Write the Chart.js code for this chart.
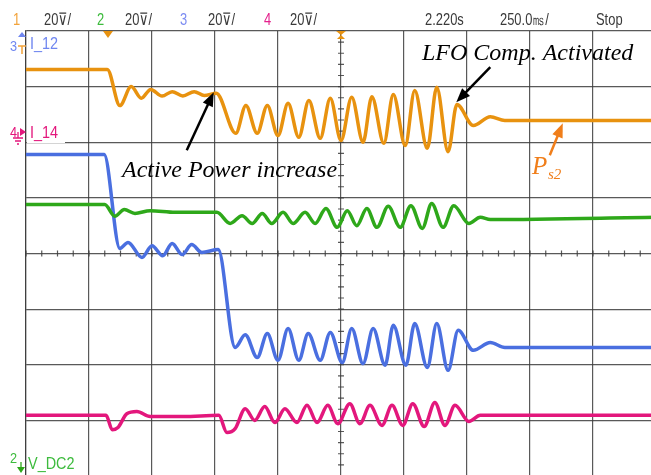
<!DOCTYPE html>
<html>
<head>
<meta charset="utf-8">
<script src="https://cdn.jsdelivr.net/npm/chart.js@4.4.0/dist/chart.umd.min.js"></script>
<style>
  html, body { margin: 0; padding: 0; background: #fff; overflow: hidden; width: 651px; height: 475px; }
  #wrap { position: absolute; left: 0; top: 0; width: 700px; height: 480px; }
</style>
</head>
<body>
<div id="wrap"><canvas id="scope"></canvas></div>
<script>
// time in screen divisions (250 ms/div, trigger at centre), levels in divisions
const ps2T = [-5.0, -3.71, -3.51, -3.33, -3.17, -3.02, -2.84, -2.68, -2.51, -2.33, -2.17, -1.98,
              -1.67, -1.51, -1.33, -1.17, -1.00, -0.84, -0.67, -0.51, -0.33, -0.17, 0.00, 0.17,
              0.35, 0.49, 0.68, 0.83, 1.02, 1.17, 1.37, 1.52, 1.70, 1.84, 2.10, 2.37, 2.60, 5.0];
const ps2V = [3.31, 3.31, 2.66, 3.00, 2.79, 2.95, 2.83, 2.91, 2.83, 2.91, 2.84, 2.88,
              2.16, 2.66, 2.16, 2.66, 2.12, 2.70, 2.09, 2.75, 2.07, 2.79, 2.03, 2.81,
              2.00, 2.82, 1.98, 2.86, 1.94, 2.93, 1.89, 2.99, 1.83, 2.68, 2.30, 2.46, 2.39, 2.39];

const vdcT = [-5.0, -3.75, -3.59, -3.44, -3.27, -3.03, -2.63, -1.97, -1.76, -1.57, -1.41, -1.25,
              -1.10, -0.92, -0.76, -0.57, -0.41, -0.24, -0.06, 0.10, 0.25, 0.41, 0.57, 0.75,
              0.94, 1.11, 1.29, 1.44, 1.62, 1.79, 2.03, 2.21, 2.37, 5.0];
const vdcV = [0.88, 0.88, 0.67, 0.79, 0.72, 0.77, 0.74, 0.74, 0.54, 0.68, 0.54, 0.72,
              0.54, 0.74, 0.54, 0.74, 0.54, 0.81, 0.47, 0.77, 0.50, 0.81, 0.47, 0.85,
              0.47, 0.86, 0.45, 0.90, 0.47, 0.86, 0.54, 0.65, 0.61, 0.65];

const i12T = [-5.0, -3.76, -3.51, -3.38, -3.16, -3.00, -2.83, -2.68, -2.52, -2.37, -2.21, -1.95,
              -1.68, -1.52, -1.33, -1.17, -1.00, -0.84, -0.67, -0.52, -0.33, -0.17, 0.02, 0.17,
              0.35, 0.51, 0.70, 0.83, 1.03, 1.17, 1.37, 1.52, 1.70, 1.86, 2.10, 2.37, 2.60, 5.0];
const i12V = [1.78, 1.78, 0.09, 0.20, -0.07, 0.14, -0.04, 0.18, -0.02, 0.16, 0.02, 0.07,
              -1.69, -1.46, -1.87, -1.44, -1.92, -1.35, -1.92, -1.44, -1.92, -1.42, -1.96, -1.35,
              -1.98, -1.35, -2.01, -1.29, -2.01, -1.26, -2.05, -1.26, -2.10, -1.38, -1.74, -1.60, -1.69, -1.69];

const i14T = [-5.0, -3.73, -3.63, -3.54, -3.40, -3.24, -3.03, -2.51, -1.94, -1.81, -1.68, -1.52,
              -1.37, -1.21, -1.05, -0.89, -0.70, -0.54, -0.38, -0.21, -0.05, 0.14, 0.30, 0.46,
              0.65, 0.81, 0.98, 1.14, 1.32, 1.49, 1.65, 1.81, 2.03, 2.21, 5.0];
const i14V = [-2.91, -2.91, -3.17, -3.13, -2.88, -2.84, -2.93, -2.93, -2.91, -3.22, -3.15, -2.79,
              -3.00, -2.75, -3.04, -2.79, -3.04, -2.73, -3.04, -2.73, -3.06, -2.70, -3.06, -2.73,
              -3.09, -2.73, -3.09, -2.70, -3.11, -2.68, -3.09, -2.73, -3.02, -2.91, -2.91];

const header = [
  ['1', 13, '#F2A33A'], ['20⊽/', 44, '#3a3a3a'],
  ['2', 97, '#3DBB3D'], ['20⊽/', 125, '#3a3a3a'],
  ['3', 180, '#7C8CF2'], ['20⊽/', 208, '#3a3a3a'],
  ['4', 264, '#E4208C'], ['20⊽/', 290, '#3a3a3a'],
  ['2.220s', 425, '#3a3a3a'], ['250.0㎳/', 500, '#3a3a3a'], ['Stop', 596, '#3a3a3a']
];

const gridColor = 'rgba(60,60,60,0.85)';
const orange = '#E8920F', green = '#2EA81A', blue = '#4A6FE0', pink = '#E3177C', psColor = '#F07E1A';

function zip(t, v) { return t.map((x, i) => ({x: x, y: v[i]})); }

function condText(ctx, txt, x, y, color, size, sx) {
  ctx.save();
  ctx.translate(x, y);
  ctx.scale(sx, 1);
  ctx.fillStyle = color;
  ctx.font = size + 'px "Liberation Sans", Arial, sans-serif';
  ctx.textBaseline = 'alphabetic';
  ctx.fillText(txt, 0, 0);
  ctx.restore();
}

function arrow(ctx, x0, y0, x1, y1, color, w) {
  const a = Math.atan2(y1 - y0, x1 - x0);
  const hl = 14, hw = 5.5;
  ctx.strokeStyle = color;
  ctx.fillStyle = color;
  ctx.lineWidth = w;
  ctx.beginPath();
  ctx.moveTo(x0, y0);
  ctx.lineTo(x1 - Math.cos(a) * hl * 0.8, y1 - Math.sin(a) * hl * 0.8);
  ctx.stroke();
  ctx.beginPath();
  ctx.moveTo(x1, y1);
  ctx.lineTo(x1 - hl * Math.cos(a) + hw * Math.sin(a), y1 - hl * Math.sin(a) - hw * Math.cos(a));
  ctx.lineTo(x1 - hl * Math.cos(a) - hw * Math.sin(a), y1 - hl * Math.sin(a) + hw * Math.cos(a));
  ctx.closePath();
  ctx.fill();
}

const scopeDecor = {
  id: 'scopeDecor',
  beforeDatasetsDraw(chart) {
    const ctx = chart.ctx, xs = chart.scales.x, ys = chart.scales.y;
    const cx = xs.getPixelForValue(0), cy = ys.getPixelForValue(0);
    ctx.save();
    ctx.strokeStyle = gridColor;
    ctx.lineWidth = 1.2;
    ctx.beginPath();
    for (let v = -4; v <= 4.001; v += 0.2) {
      const p = ys.getPixelForValue(v);
      ctx.moveTo(cx - 3, p); ctx.lineTo(cx + 3, p);
    }
    for (let t = -5; t <= 5.001; t += 0.25) {
      const p = xs.getPixelForValue(t);
      ctx.moveTo(p, cy - 3); ctx.lineTo(p, cy + 3);
    }
    ctx.stroke();
    ctx.restore();
  },
  afterDraw(chart) {
    const ctx = chart.ctx, xs = chart.scales.x, ys = chart.scales.y;
    ctx.save();
    // header line
    header.forEach(h => condText(ctx, h[0], h[1], 25, h[2], 17, 0.76));

    // top markers: delay marker and trigger position
    ctx.fillStyle = orange;
    const dx = 108, top = chart.chartArea.top;
    ctx.beginPath(); ctx.moveTo(dx - 5, top); ctx.lineTo(dx + 5, top); ctx.lineTo(dx, top + 7); ctx.closePath(); ctx.fill();
    const tx = xs.getPixelForValue(0);
    ctx.beginPath(); ctx.moveTo(tx - 5, top); ctx.lineTo(tx + 5, top); ctx.lineTo(tx, top + 4); ctx.closePath(); ctx.fill();
    ctx.beginPath(); ctx.moveTo(tx, top + 4); ctx.lineTo(tx - 4, top + 8); ctx.lineTo(tx + 4, top + 8); ctx.closePath(); ctx.fill();

    // channel labels on the left
    ctx.fillStyle = '#fff';
    ctx.fillRect(27, 124, 38, 19);
    condText(ctx, '3', 10, 51, '#6F86F0', 15, 0.85);
    condText(ctx, 'I_12', 30, 49, '#6F86F0', 17, 0.85);
    ctx.fillStyle = '#6F86F0';
    ctx.beginPath(); ctx.moveTo(22, 32); ctx.lineTo(18, 37); ctx.lineTo(26, 37); ctx.closePath(); ctx.fill();
    ctx.strokeStyle = '#F2A33A'; ctx.lineWidth = 1.5;
    ctx.beginPath(); ctx.moveTo(18, 46); ctx.lineTo(26, 46); ctx.moveTo(22, 46); ctx.lineTo(22, 54); ctx.stroke();

    condText(ctx, '4', 10, 137, pink, 15, 0.85);
    condText(ctx, 'I_14', 30, 138, pink, 17, 0.85);
    ctx.fillStyle = pink;
    ctx.beginPath(); ctx.moveTo(26, 132); ctx.lineTo(20, 128); ctx.lineTo(20, 136); ctx.closePath(); ctx.fill();
    ctx.strokeStyle = pink; ctx.lineWidth = 1.3;
    ctx.beginPath();
    ctx.moveTo(18, 132); ctx.lineTo(18, 138);
    ctx.moveTo(13, 138); ctx.lineTo(23, 138);
    ctx.moveTo(15, 141); ctx.lineTo(21, 141);
    ctx.moveTo(17, 144); ctx.lineTo(19, 144);
    ctx.stroke();

    condText(ctx, '2', 10, 463, '#3DBB3D', 15, 0.85);
    condText(ctx, 'V_DC2', 28, 469, '#3DBB3D', 17, 0.85);
    ctx.fillStyle = '#2EA81A';
    ctx.strokeStyle = '#2EA81A';
    ctx.beginPath(); ctx.moveTo(21, 462); ctx.lineTo(21, 468); ctx.stroke();
    ctx.beginPath(); ctx.moveTo(17, 467); ctx.lineTo(25, 467); ctx.lineTo(21, 473); ctx.closePath(); ctx.fill();

    // annotations
    ctx.fillStyle = '#000';
    ctx.font = 'italic 24px "Liberation Serif", "Times New Roman", serif';
    ctx.fillText('Active Power increase', 122, 177);
    ctx.fillText('LFO Comp. Activated', 422, 60);
    let px = xs.getPixelForValue(-2.02), py = ys.getPixelForValue(2.90);
    arrow(ctx, px - 27, py + 58, px, py, '#000', 2.5);
    px = xs.getPixelForValue(1.83); py = ys.getPixelForValue(2.72);
    arrow(ctx, px + 34, py - 35, px, py, '#000', 2.5);

    px = xs.getPixelForValue(3.52); py = ys.getPixelForValue(2.34);
    arrow(ctx, px - 13, py + 32, px, py, psColor, 2.5);
    ctx.fillStyle = psColor;
    ctx.font = 'italic 25px "Liberation Serif", "Times New Roman", serif';
    ctx.fillText('P', 532, 174);
    ctx.font = 'italic 15px "Liberation Serif", "Times New Roman", serif';
    ctx.fillText('s2', 548, 179);
    ctx.restore();
  }
};

const datasets = [
  { label: 'V_DC2', data: zip(vdcT, vdcV), borderColor: green },
  { label: 'I_14', data: zip(i14T, i14V), borderColor: pink },
  { label: 'I_12', data: zip(i12T, i12V), borderColor: blue },
  { label: 'Ps2', data: zip(ps2T, ps2V), borderColor: orange }
];

const config = {
  type: 'line',
  data: { datasets: datasets },
  options: {
    responsive: true,
    maintainAspectRatio: false,
    animation: false,
    layout: { padding: { left: 26, top: 31, right: 44, bottom: 4 }, autoPadding: false },
    plugins: { legend: { display: false }, tooltip: { enabled: false } },
    elements: {
      point: { radius: 0 },
      line: { borderWidth: 3.5, cubicInterpolationMode: 'monotone', borderJoinStyle: 'round' }
    },
    scales: {
      x: {
        type: 'linear', min: -5, max: 5,
        ticks: { display: false, stepSize: 1 },
        grid: { color: gridColor, lineWidth: 1.2, drawTicks: false },
        border: { color: gridColor, width: 1.2 }
      },
      y: {
        type: 'linear', min: -4, max: 4,
        ticks: { display: false, stepSize: 1 },
        grid: { color: gridColor, lineWidth: 1.2, drawTicks: false },
        border: { color: gridColor, width: 1.2 }
      }
    }
  },
  plugins: [scopeDecor]
};

const myChart = new Chart(document.getElementById('scope'), config);
</script>
</body>
</html>
